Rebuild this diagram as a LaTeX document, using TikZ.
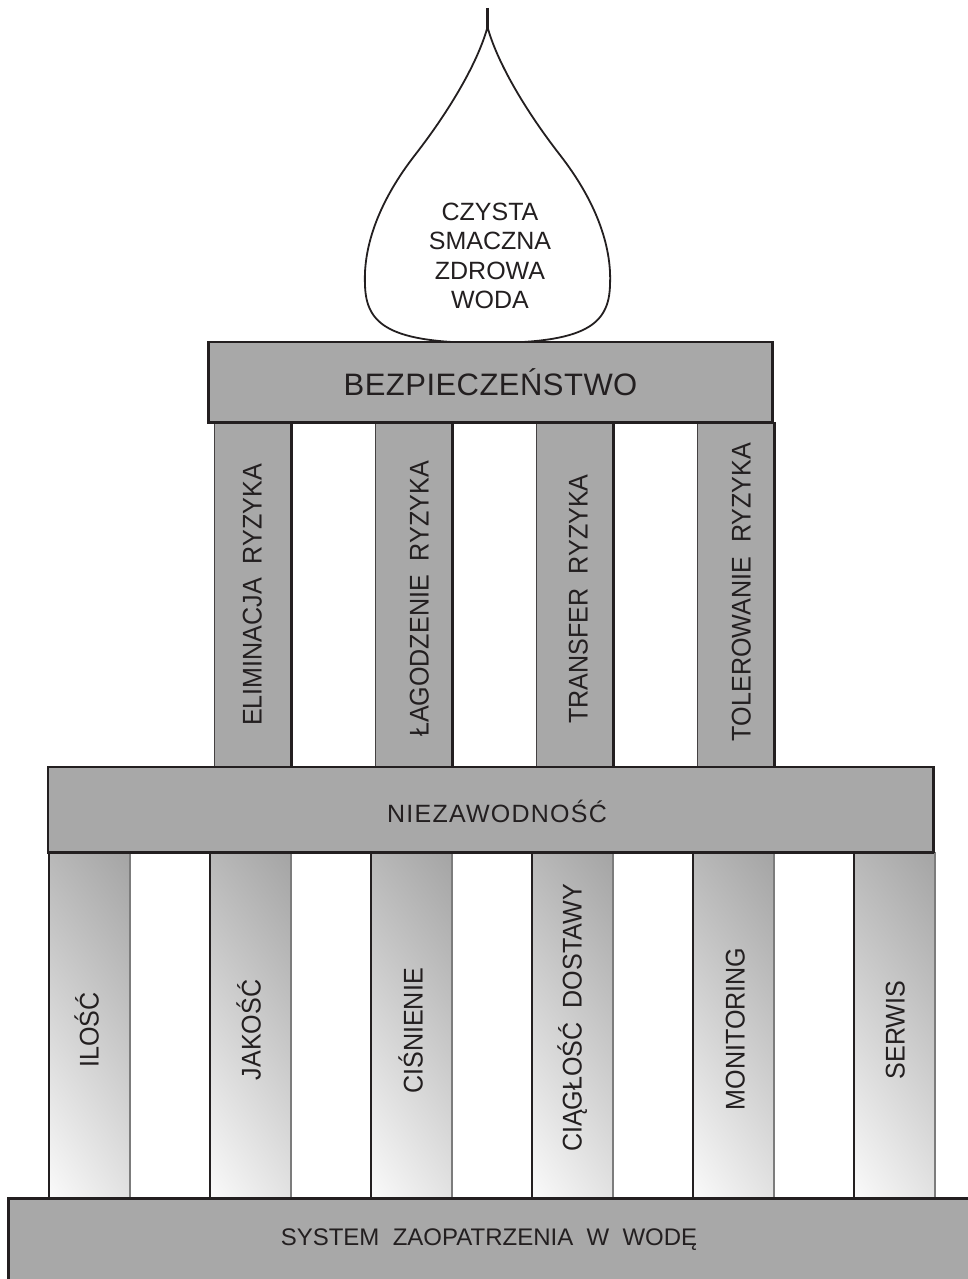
\documentclass[tikz,border=0pt]{standalone}
\usepackage{fontspec}
\setmainfont{Liberation Sans}
\newfontfamily\narrowfont[FakeStretch=0.93]{Liberation Sans}
\newfontfamily\spacedfont[LetterSpace=1.5]{Liberation Sans}
\newfontfamily\lightspacedfont[LetterSpace=5]{Liberation Sans}
\usetikzlibrary{calc,shadings}
\definecolor{ink}{HTML}{231F20}
\definecolor{beamgray}{HTML}{A8A8A8}
\definecolor{edgegray}{HTML}{7C7C7C}
\definecolor{shadeTL}{HTML}{B8B8B8}
\definecolor{shadeTR}{HTML}{A4A4A4}
\definecolor{shadeBL}{HTML}{FAFAFA}
\definecolor{shadeBR}{HTML}{E2E2E2}
\begin{document}
\begin{tikzpicture}[x=1pt,y=-1pt,
  beam/.style={draw=ink, line width=1.5pt, fill=beamgray, inner sep=0pt},
  label/.style={text=ink, inner sep=0pt},
  pillarlabel/.style={label, rotate=90, font=\narrowfont\fontsize{27}{30}\selectfont,
    text height=19pt, text depth=0pt},
  gradpillar/.style={upper left=shadeTL, upper right=shadeTR,
    lower left=shadeBL, lower right=shadeBR}]
\useasboundingbox (0,0) rectangle (968,1279);

% ---- water drop ----
\draw[ink, line width=2.5pt] (487.5,8) -- (487.5,30);
\draw[ink, line width=1.8pt, fill=white]
  (487.5,27) .. controls (497,62) and (525,110) .. (560,155)
  .. controls (595,200) and (612,245) .. (610,285)
  .. controls (609,325) and (585,343) .. (487.5,343)
  .. controls (390,343) and (366,325) .. (365,285)
  .. controls (363,245) and (380,200) .. (415,155)
  .. controls (450,110) and (478,62) .. cycle;
\node[label, align=center, font=\fontsize{25}{29.5}\selectfont] (drop) at (490,256)
  {CZYSTA\\SMACZNA\\ZDROWA\\WODA};

% ---- upper pillars (risk handling) ----
\foreach \x in {214,375,536,697} {
  \fill[beamgray] (\x,422) rectangle (\x+77,767);
  \draw[ink!85, line width=1pt] (\x,422) -- (\x,767);
  \draw[ink, line width=3pt] (\x+77,422) -- (\x+77,767);
}
\node[pillarlabel] (elim) at (252,595) {ELIMINACJA~~RYZYKA};
\node[pillarlabel] (lag)  at (419,599) {ŁAGODZENIE~~RYZYKA};
\node[pillarlabel] (trans) at (578,599) {TRANSFER~~RYZYKA};
\node[pillarlabel] (tol)  at (741,592) {TOLEROWANIE~~RYZYKA};

% ---- lower pillars (supply parameters) ----
\foreach \x in {49,210,371,532,693,854} {
  \shade[gradpillar] (\x,852) rectangle (\x+81,1198);
  \draw[ink, line width=1.2pt] (\x,852) -- (\x,1198);
  \draw[edgegray, line width=1.5pt] (\x+81,852) -- (\x+81,1198);
}
\node[pillarlabel] (ilosc) at (89,1030) {ILOŚĆ};
\node[pillarlabel] (jakosc) at (251,1030) {JAKOŚĆ};
\node[pillarlabel] (cisn) at (413,1031) {CIŚNIENIE};
\node[pillarlabel] (ciag) at (572,1018) {CIĄGŁOŚĆ~~DOSTAWY};
\node[pillarlabel] (monit) at (735,1029) {MONITORING};
\node[pillarlabel] (serw) at (895,1030) {SERWIS};

% ---- safety beam ----
\node[beam, minimum width=563pt, minimum height=80pt,
  font=\spacedfont\fontsize{31}{34}\selectfont, text=ink] (safety) at (490.5,382)
  {BEZPIECZEŃSTWO};
\draw[ink, line width=3pt] (safety.north west) -- (safety.south west) -- (safety.south east);
\draw[ink, line width=2pt] (safety.north east) -- (safety.south east);

% ---- reliability beam ----
\node[beam, line width=1.2pt, minimum width=885pt, minimum height=85pt] (rel) at (490.5,809.5) {};
\draw[ink, line width=3pt] (rel.south west) -- (rel.south east);
\draw[ink, line width=2.5pt] (rel.north east) -- (rel.south east);
\node[label, font=\lightspacedfont\fontsize{25}{28}\selectfont] (reltext) at (497,811) {NIEZAWODNOŚĆ};

% ---- base: water supply system ----
\fill[beamgray] (8.5,1198) rectangle (975,1285);
\draw[ink, line width=3pt] (8.5,1285) -- (8.5,1198) -- (975,1198);
\node[label, font=\fontsize{24}{27}\selectfont] (base) at (489,1240)
  {SYSTEM~~ZAOPATRZENIA~~W~~WODĘ};
\end{tikzpicture}
\end{document}
